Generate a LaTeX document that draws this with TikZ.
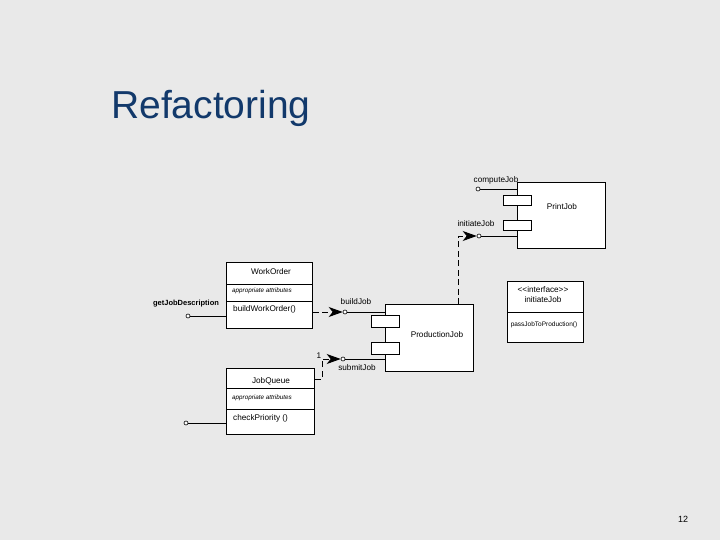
\documentclass[tikz,border=0pt]{standalone}
\usepackage{fontspec}
\setmainfont{Liberation Sans}
\usetikzlibrary{arrows.meta}
\definecolor{bg}{RGB}{233,233,233}
\definecolor{titleblue}{RGB}{18,57,107}
\tikzset{
  box/.style={draw, fill=white, line width=0.8pt, inner sep=0pt, anchor=north west},
  portbox/.style={draw, fill=white, line width=0.7pt, inner sep=0pt, anchor=north west, minimum width=28pt, minimum height=10pt},
  lolli/.style={circle, draw, fill=white, inner sep=0pt, minimum size=4pt, line width=0.6pt},
  lbl/.style={font=\fontsize{8.2}{9}\selectfont, inner sep=0pt},
  small/.style={font=\fontsize{6.5}{7.5}\selectfont, inner sep=0pt},
  attr/.style={font=\fontsize{6.3}{7}\selectfont\itshape, inner sep=0pt},
  conn/.style={line width=0.9pt},
  sep/.style={line width=0.7pt},
  dep/.style={line width=1pt, dash pattern=on 6pt off 3.5pt, -{Stealth[length=14pt,width=10pt,inset=4pt]}},
}
\begin{document}
\begin{tikzpicture}[x=1pt,y=-1pt]
\fill[bg] (0,0) rectangle (720,540);
\useasboundingbox (0,0) rectangle (720,540);

\node[anchor=base west, inner sep=0pt, text=titleblue, font=\fontsize{39}{43}\selectfont] (title) at (111,119) {Refactoring};

% PrintJob
\node[box, minimum width=88pt, minimum height=66pt] (pj) at (517,182) {};
\node[lbl] (pjt) at (562,207) {PrintJob};
\node[portbox] (pjp1) at (503,195) {};
\node[portbox] (pjp2) at (503,220) {};
\node[lolli] (cj) at (478,189) {};
\node[lolli] (ij) at (479,236) {};
\draw[conn] (cj) -- (cj -| pj.west);
\draw[conn] (ij) -- (ij -| pj.west);
\node[lbl] (cjl) at (496,180) {computeJob};
\node[lbl] (ijl) at (476,224) {initiateJob};

% ProductionJob
\node[box, minimum width=88pt, minimum height=67pt] (prj) at (385,304) {};
\node[lbl] (prjt) at (437,335) {ProductionJob};
\node[portbox, minimum height=12pt] (prp1) at (371,315) {};
\node[portbox, minimum height=12pt] (prp2) at (371,342) {};
\node[lolli] (bj) at (345,312) {};
\node[lolli] (sj) at (343,359) {};
\draw[conn] (bj) -- (bj -| prj.west);
\draw[conn] (sj) -- (sj -| prj.west);
\node[lbl] (bjl) at (356,302) {buildJob};
\node[lbl] (sjl) at (357,368) {submitJob};

% dependency ProductionJob -> initiateJob
\draw[dep] ([xshift=29pt]prj.north) |- (ij);

% Interface
\node[box, minimum width=76pt, minimum height=61pt] (ifc) at (507,281) {};
\draw[sep] (507,312) -- (583,312);
\node[lbl, align=center] (ifct) at (543,295) {<\kern0pt<interface>\kern0pt>\\[1pt]initiateJob};
\node[small] (ifco) at (544,325) {passJobToProduction()};

% WorkOrder
\node[box, minimum width=86pt, minimum height=66pt] (wo) at (226,262) {};
\draw[sep] (226,284) -- (312,284);
\draw[sep] (226,301) -- (312,301);
\node[lbl] (wot) at (271,272) {WorkOrder};
\node[attr, anchor=west] (woa) at (232,291) {appropriate attributes};
\node[lbl, anchor=west] (woo) at (233,309) {buildWorkOrder()};
\node[lolli] (gjd) at (188,316) {};
\draw[conn] (gjd) -- (gjd -| wo.west);
\node[lbl, font=\fontsize{7.5}{9}\selectfont\bfseries] (gjdl) at (186,304) {getJobDescription};
\draw[dep] (wo.east |- bj) -- (bj);

% JobQueue
\node[box, minimum width=88pt, minimum height=66pt] (jq) at (226,368) {};
\draw[sep] (226,388) -- (314,388);
\draw[sep] (226,409) -- (314,409);
\node[lbl] (jqt) at (271,381) {JobQueue};
\node[attr, anchor=west] (jqa) at (232,398) {appropriate attributes};
\node[lbl, anchor=west] (jqo) at (233,418) {checkPriority ()};
\node[lolli] (cp) at (186,423) {};
\draw[conn] (cp) -- (cp -| jq.west);
\draw[dep] (jq.east |- 0,379) -- (322,379) |- (sj);
\node[lbl] (one) at (319,356) {1};

\node[anchor=base, inner sep=0pt, font=\fontsize{9}{10}\selectfont] (pg) at (683,522) {12};
\end{tikzpicture}
\end{document}
